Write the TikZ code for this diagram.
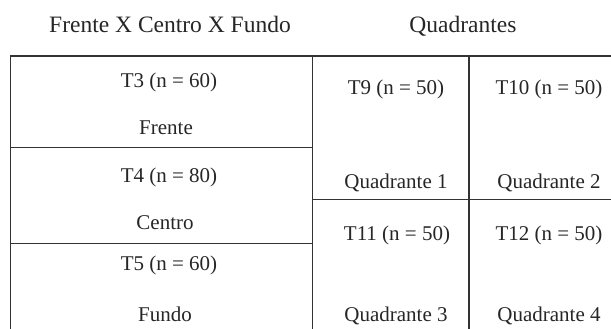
\documentclass[tikz,border=0pt]{standalone}
\usepackage{fontspec}
\setmainfont{Liberation Serif}
\usepackage{tikz}
\usetikzlibrary{positioning}

\tikzset{
    celltext/.style={inner sep=0pt, anchor=base, text=black!85, font=\fontsize{21}{24}\selectfont},
    titletext/.style={inner sep=0pt, anchor=base, text=black!85, font=\fontsize{23.5}{26}\selectfont},
    rule/.style={line width=1.4pt, black!80}
}

\begin{document}
\begin{tikzpicture}[x=1pt,y=-1pt]
    \useasboundingbox (0,0) rectangle (611,329);

    % titles
    \node[titletext] (ttl1) at (170,33) {Frente X Centro X Fundo};
    \node[titletext] (ttl2) at (463,33) {Quadrantes};

    % grid
    \draw[rule] (9.8,56) -- (611,56);
    \draw[rule] (10.5,56) -- (10.5,329);
    \draw[rule] (312.3,56) -- (312.3,329);
    \draw[rule] (469,56) -- (469,329);
    \draw[rule] (10.5,147.3) -- (312.3,147.3);
    \draw[rule] (10.5,243.3) -- (312.3,243.3);
    \draw[rule] (312.3,199.3) -- (611,199.3);

    % left column
    \node[celltext] (t3) at (169,88) {T3 (n = 60)};
    \node[celltext] (frente) at (166,134) {Frente};
    \node[celltext] (t4) at (169,182) {T4 (n = 80)};
    \node[celltext] (centro) at (165,229) {Centro};
    \node[celltext] (t5) at (169,270) {T5 (n = 60)};
    \node[celltext] (fundo) at (165,321) {Fundo};

    % quadrants
    \node[celltext] (t9) at (396,95) {T9 (n = 50)};
    \node[celltext] (t10) at (549,95) {T10 (n = 50)};
    \node[celltext] (q1) at (396,188) {Quadrante 1};
    \node[celltext] (q2) at (549,188) {Quadrante 2};
    \node[celltext] (t11) at (397,240) {T11 (n = 50)};
    \node[celltext] (t12) at (549,240) {T12 (n = 50)};
    \node[celltext] (q3) at (396,321) {Quadrante 3};
    \node[celltext] (q4) at (549,321) {Quadrante 4};
\end{tikzpicture}
\end{document}
